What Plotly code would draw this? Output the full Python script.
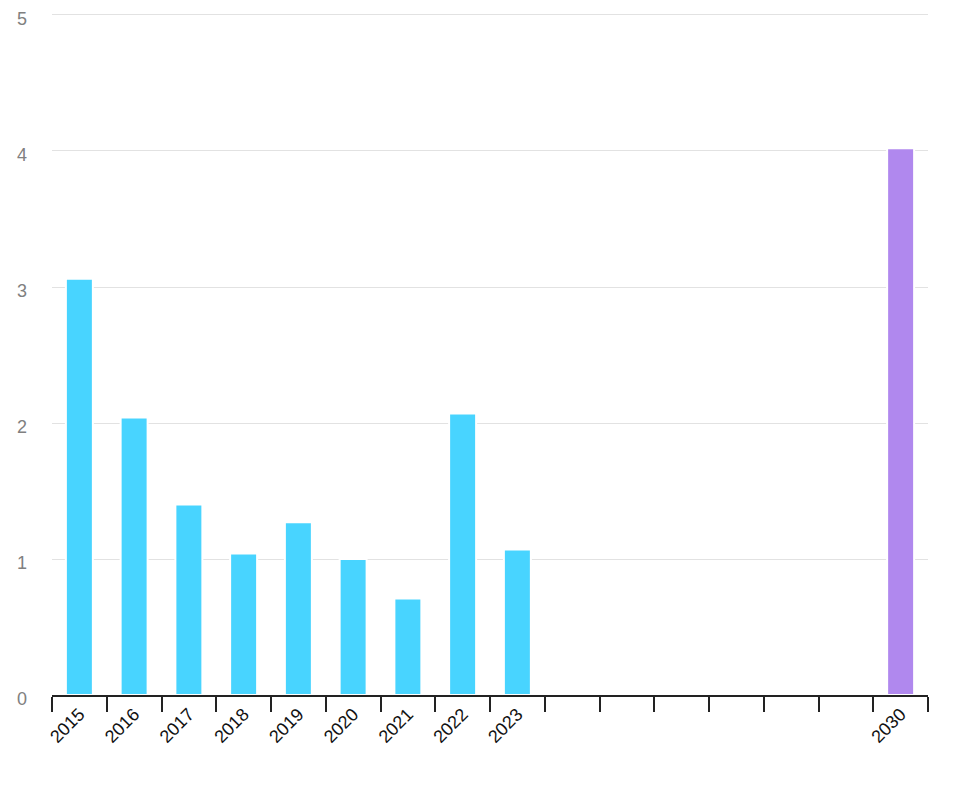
import plotly.graph_objects as go

years = [str(y) for y in range(2015, 2031)]
tick_labels = ["2015", "2016", "2017", "2018", "2019", "2020", "2021", "2022", "2023",
               "", "", "", "", "", "", "2030"]
actual_values = [3.06, 2.04, 1.40, 1.04, 1.27, 1.00, 0.71, 2.07, 1.07,
                 None, None, None, None, None, None, None]
target_values = [None] * 15 + [4.02]

fig = go.Figure()
fig.add_trace(go.Bar(x=years, y=actual_values, marker_color="#48d4ff",
                     marker_line_width=2, marker_line_color="white", name="actual"))
fig.add_trace(go.Bar(x=years, y=target_values, marker_color="#b088ee",
                     marker_line_width=2, marker_line_color="white", name="target"))

fig.update_layout(
    width=960, height=800,
    margin=dict(l=44, r=40, t=4, b=113, autoexpand=False),
    plot_bgcolor="white", paper_bgcolor="white",
    barmode="overlay", bargap=0.507, showlegend=False,
    font=dict(family="Liberation Sans, Arial, sans-serif"),
)
fig.update_xaxes(
    type="category", tickvals=years, ticktext=tick_labels, automargin=False,
    tickangle=-45, tickson="boundaries", ticks="outside", ticklen=15,
    tickwidth=1.5, tickcolor="#222", showline=True, linecolor="#222", linewidth=1.5,
    showgrid=False, tickfont=dict(size=18, color="#111"),
)
fig.update_yaxes(
    range=[0, 5.022], tickvals=[0, 1, 2, 3, 4, 5], showgrid=True, gridcolor="#e2e2e2", gridwidth=1,
    zeroline=False, showline=False, ticks="", ticklabelstandoff=24, automargin=False,
    ticklabeloverflow="allow", ticklabelshift=4, tickfont=dict(size=18, color="#808080"),
)

fig.write_html("out.html")
